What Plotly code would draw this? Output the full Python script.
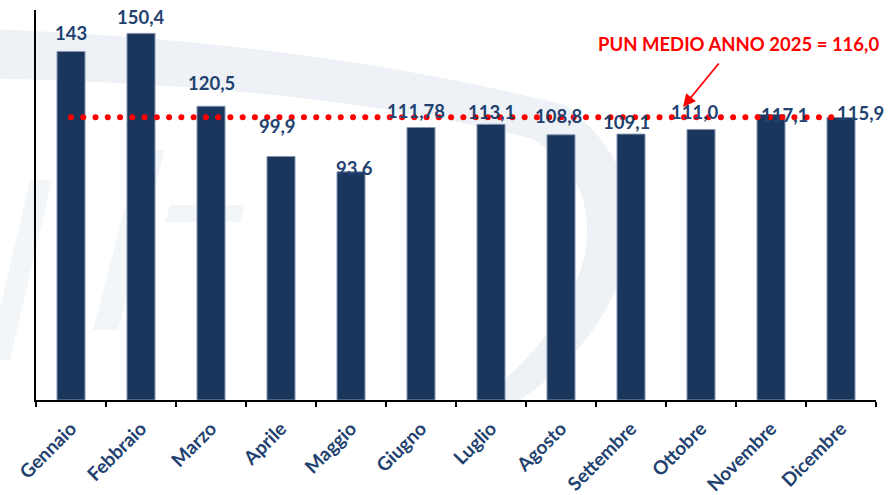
import numpy as np
import plotly.graph_objects as go

# Monthly PUN values (€/MWh) for 2025
months = ["Gennaio", "Febbraio", "Marzo", "Aprile", "Maggio", "Giugno",
          "Luglio", "Agosto", "Settembre", "Ottobre", "Novembre", "Dicembre"]
values = [143, 150.4, 120.5, 99.9, 93.6, 111.78, 113.1, 108.8, 109.1, 111.0, 117.1, 115.9]
value_labels = ["143", "150,4", "120,5", "99,9", "93,6", "111,78",
                "113,1", "108,8", "109,1", "111,0", "117,1", "115,9"]
pun_medio = 116.0
pun_text = "PUN MEDIO ANNO 2025 = 116,0"

# Hand-tuned pixel nudges for the value labels
label_dx = [0, 0, 0, -4, 3, -5, 0, -2, -5, -6, 13, 19]
label_dy = [18, 16, 23, 30, 4, 17, 12, 19, 12, 17, 0, 4]

W, H = 889, 495
ML, MR, MT, MB = 36, 13, 10, 95
PW, PH = W - ML - MR, H - MT - MB

NAVY = "#1A365D"
TEXT_BLUE = "#1F4270"
RED = "#FF0000"
FONT = "Lato"


def px_path(cmds):
    """Build an SVG path in paper coordinates from pixel-space commands."""
    out = []
    for c in cmds:
        if isinstance(c, str):
            out.append(c)
        else:
            x, y = c
            out.append(f"{(x - ML) / PW:.4f},{(H - MB - y) / PH:.4f}")
    return " ".join(out)


fig = go.Figure()

fig.add_trace(go.Bar(
    x=months, y=values, width=0.4,
    marker=dict(color=NAVY, line=dict(color="#8497B0", width=1)),
    hoverinfo="skip", showlegend=False,
))

# Average reference line, drawn as a row of round dots
dot_x = np.linspace(0, 10.86, 63)
fig.add_trace(go.Scatter(
    x=dot_x, y=[pun_medio] * len(dot_x), xaxis="x2", mode="markers",
    marker=dict(color=RED, size=6), hoverinfo="skip", showlegend=False,
))

annotations = []
for m, v, t, dx, dy in zip(months, values, value_labels, label_dx, label_dy):
    annotations.append(dict(
        x=m, y=v, xref="x", yref="y", text=t, showarrow=False,
        xshift=dx, yshift=dy, yanchor="middle",
        font=dict(family=FONT, size=18.5, color=TEXT_BLUE, weight="bold"),
    ))

annotations.append(dict(
    x=0.8367, y=0.914, xref="paper", yref="paper", text=pun_text,
    showarrow=False, xanchor="center", yanchor="middle",
    font=dict(family=FONT, size=18.5, color=RED, weight="bold"),
))
annotations.append(dict(
    x=8.743, y=120.2, xref="x2", yref="y", text="",
    showarrow=True, ax=37, ay=-45, axref="pixel", ayref="pixel",
    arrowhead=2, arrowsize=1.4, arrowwidth=1.8, arrowcolor=RED,
))

# Faint background logo swoosh
wm_color = "#F3F6F9"
shapes = [
    dict(type="path", xref="paper", yref="paper", layer="below",
         fillcolor="#EEF2F7", line=dict(width=0),
         path=px_path(["M", (-40, 28), "Q", (300, 38), (565, 105),
                       "Q", (650, 170), (625, 265), "Q", (600, 345), (520, 400),
                       "L", (480, 400), "Q", (565, 335), (585, 255),
                       "Q", (598, 175), (530, 138), "Q", (300, 82), (-40, 78), "Z"])),
    dict(type="path", xref="paper", yref="paper", layer="below",
         fillcolor=wm_color, line=dict(width=0),
         path=px_path(["M", (30, 180), "L", (52, 180), "L", (10, 360),
                       "L", (-12, 360), "Z"])),
    dict(type="path", xref="paper", yref="paper", layer="below",
         fillcolor=wm_color, line=dict(width=0),
         path=px_path(["M", (140, 150), "L", (165, 150), "L", (118, 330),
                       "L", (93, 330), "Z"])),
    dict(type="path", xref="paper", yref="paper", layer="below",
         fillcolor=wm_color, line=dict(width=0),
         path=px_path(["M", (170, 205), "L", (245, 205), "L", (240, 222),
                       "L", (165, 222), "Z"])),
]

fig.update_layout(
    width=W, height=H,
    margin=dict(l=ML, r=MR, t=MT, b=MB, autoexpand=False),
    paper_bgcolor="white", plot_bgcolor="rgba(0,0,0,0)",
    bargap=0.6,
    xaxis=dict(
        type="category", range=[-0.5, 11.5], automargin=False,
        showline=True, linecolor="black", linewidth=2,
        ticks="outside", tickson="boundaries", ticklen=5,
        tickcolor="black", tickwidth=1.5,
        tickangle=-45, showgrid=False, ticklabelstandoff=8,
        tickfont=dict(family=FONT, size=19, color=TEXT_BLUE, weight="bold"),
    ),
    xaxis2=dict(overlaying="x", range=[-0.5, 11.5], visible=False),
    yaxis=dict(
        range=[0, 160], showline=True, linecolor="black", linewidth=1.5,
        showgrid=False, zeroline=False, showticklabels=False, ticks="",
        automargin=False,
    ),
    annotations=annotations,
    shapes=shapes,
)

fig.write_html("out.html")
